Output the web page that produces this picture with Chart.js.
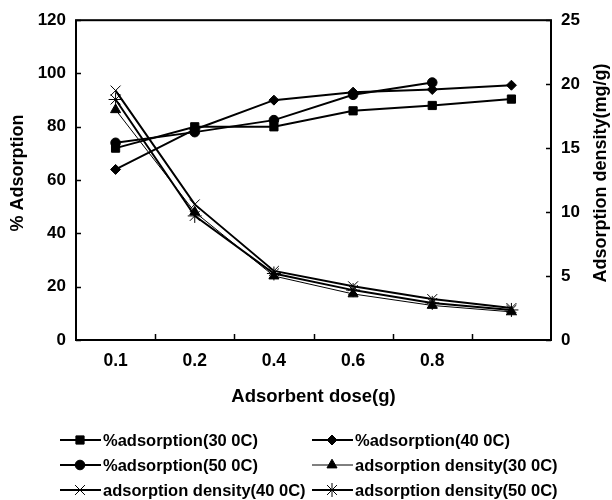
<!DOCTYPE html>
<html>
<head>
<meta charset="utf-8">
<script src="https://cdn.jsdelivr.net/npm/chart.js@4.4.1/dist/chart.umd.min.js"></script>
<style>
  html, body { margin: 0; padding: 0; background: #fff; }
  #wrap { position: relative; width: 612px; height: 500px; }
</style>
</head>
<body>
<div id="wrap"><canvas id="chart"></canvas></div>
<script>
// adsorbent dose categories (last one has no label in the figure)
const doses = ['0.1', '0.2', '0.4', '0.6', '0.8', ''];

// % adsorption, left axis
const adsorption30 = [72, 80, 80, 86, 88, 90.4];
const adsorption40 = [64, 79, 90, 93, 94, 95.6];
const adsorption50 = [74, 78, 82.5, 92, 96.6, null];

// adsorption density (mg/g), right axis
const density30 = [18.0, 10.0, 5.0, 3.6, 2.7, 2.2];
const density40 = [19.5, 10.6, 5.4, 4.2, 3.2, 2.5];
const density50 = [18.8, 9.7, 5.2, 3.9, 2.9, 2.35];

const leftTicks = [0, 20, 40, 60, 80, 100, 120];
const rightTicks = [0, 5, 10, 15, 20, 25];

const leftTitle = '% Adsorption';
const rightTitle = 'Adsorption density(mg/g)';

const FONT = "'Liberation Sans', Arial, sans-serif";

function series(label, data, axis, style, radius, width) {
    return {
        label: label,
        data: data,
        yAxisID: axis,
        borderColor: '#000',
        backgroundColor: '#000',
        borderWidth: width,
        pointStyle: style,
        pointRadius: radius,
        pointHoverRadius: radius,
        pointBorderWidth: 1,
        tension: 0
    };
}

// frame round the plot, ticks pointing inwards, vertical axis titles
const framePlugin = {
    id: 'frame',
    beforeDatasetsDraw(chart) {
        const ctx = chart.ctx;
        const a = chart.chartArea;
        const x = chart.scales.x, yl = chart.scales.y, yr = chart.scales.y2;
        ctx.save();
        ctx.strokeStyle = '#000';
        ctx.lineWidth = 2;
        ctx.strokeRect(a.left, a.top, a.right - a.left, a.bottom - a.top);
        ctx.lineWidth = 1.5;
        ctx.beginPath();
        yl.ticks.forEach(t => {
            const py = Math.round(yl.getPixelForValue(t.value)) + 0.5;
            ctx.moveTo(a.left, py); ctx.lineTo(a.left + 5, py);
        });
        yr.ticks.forEach(t => {
            const py = Math.round(yr.getPixelForValue(t.value)) + 0.5;
            ctx.moveTo(a.right, py); ctx.lineTo(a.right - 5, py);
        });
        for (let i = 0; i < doses.length - 1; i++) {
            const px = Math.round((x.getPixelForValue(i) + x.getPixelForValue(i + 1)) / 2) + 0.5;
            ctx.moveTo(px, a.bottom); ctx.lineTo(px, a.bottom - 6);
        }
        ctx.stroke();

        // both titles read bottom to top
        ctx.fillStyle = '#000';
        ctx.font = 'bold 18px ' + FONT;
        ctx.textAlign = 'center';
        ctx.textBaseline = 'middle';
        const cy = 173;
        [[18.5, leftTitle], [601.5, rightTitle]].forEach(([tx, text]) => {
            ctx.save();
            ctx.translate(tx, cy);
            ctx.rotate(-Math.PI / 2);
            ctx.fillText(text, 0, 0);
            ctx.restore();
        });
        ctx.restore();
    }
};

// two column legend, line with marker in the middle
const legendPlugin = {
    id: 'gridLegend',
    afterDraw(chart) {
        const ctx = chart.ctx;
        const cols = [60, 312];
        const rows = [440, 465, 490];
        chart.data.datasets.forEach((ds, i) => {
            const x = cols[i % 2];
            const y = rows[Math.floor(i / 2)];
            ctx.save();
            ctx.strokeStyle = '#000';
            ctx.fillStyle = '#000';
            ctx.lineWidth = ds.borderWidth;
            ctx.beginPath();
            ctx.moveTo(x, y);
            ctx.lineTo(x + 41, y);
            ctx.stroke();
            ctx.lineWidth = 1;
            Chart.helpers.drawPoint(ctx, {
                pointStyle: ds.pointStyle,
                radius: ds.pointRadius,
                rotation: 0,
                borderWidth: 1
            }, x + 20, y);
            ctx.font = 'bold 16.5px ' + FONT;
            ctx.textBaseline = 'middle';
            ctx.textAlign = 'left';
            ctx.fillText(ds.label, x + 43, y + 1);
            ctx.restore();
        });
    }
};

new Chart(document.getElementById('chart'), {
    type: 'line',
    data: {
        labels: doses,
        datasets: [
            series('%adsorption(30 0C)', adsorption30, 'y', 'rect', 5.8, 2),
            series('%adsorption(40 0C)', adsorption40, 'y', 'rectRot', 5, 2),
            series('%adsorption(50 0C)', adsorption50, 'y', 'circle', 4.8, 2),
            series('adsorption density(30 0C)', density30, 'y2', 'triangle', 5.8, 1),
            series('adsorption density(40 0C)', density40, 'y2', 'crossRot', 7, 2),
            series('adsorption density(50 0C)', density50, 'y2', 'star', 7, 2)
        ]
    },
    options: {
        responsive: true,
        maintainAspectRatio: false,
        animation: false,
        layout: { padding: { top: 20, left: 0, right: 0, bottom: 90 } },
        plugins: {
            legend: { display: false },
            tooltip: { enabled: false }
        },
        scales: {
            x: {
                offset: true,
                grid: { display: false, drawTicks: false },
                border: { display: false },
                ticks: { color: '#000', padding: 11, font: { family: FONT, size: 17.5, weight: 'bold' } },
                title: {
                    display: true, text: 'Adsorbent dose(g)', color: '#000',
                    padding: { top: 0, bottom: 2 },
                    font: { family: FONT, size: 18.5, weight: 'bold' }
                },
                afterFit(s) { s.height = 70; }
            },
            y: {
                position: 'left',
                min: leftTicks[0], max: leftTicks[leftTicks.length - 1],
                afterBuildTicks(s) { s.ticks = leftTicks.map(v => ({ value: v })); },
                grid: { display: false, drawTicks: false },
                border: { display: false },
                ticks: { color: '#000', padding: 10, font: { family: FONT, size: 17, weight: 'bold' } },
                afterFit(s) { s.width = 76; }
            },
            y2: {
                position: 'right',
                min: rightTicks[0], max: rightTicks[rightTicks.length - 1],
                afterBuildTicks(s) { s.ticks = rightTicks.map(v => ({ value: v })); },
                grid: { display: false, drawTicks: false },
                border: { display: false },
                ticks: { color: '#000', padding: 10, font: { family: FONT, size: 17, weight: 'bold' } },
                afterFit(s) { s.width = 61; }
            }
        }
    },
    plugins: [framePlugin, legendPlugin]
});
</script>
</body>
</html>
